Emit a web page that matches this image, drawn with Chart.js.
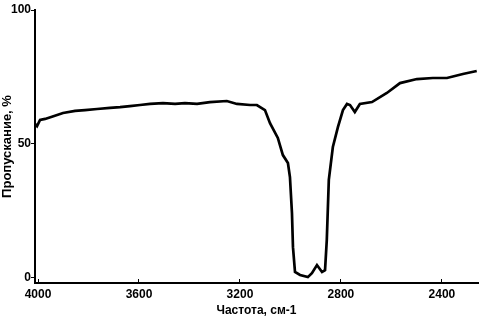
<!DOCTYPE html>
<html>
<head>
<meta charset="utf-8">
<script src="https://cdn.jsdelivr.net/npm/chart.js@4/dist/chart.umd.min.js"></script>
<style>
  body { margin: 0; background: #fff; }
  #wrap { width: 484px; height: 320px; }
</style>
</head>
<body>
<div id="wrap"><canvas id="irChart" width="484" height="320"></canvas></div>
<script>
// ==== DỮ LIỆU PHỔ ====
const wavenumbers = [
    4012, 4004, 3992, 3972, 3945, 3901, 3853, 3814, 3766, 3715, 3675, 3636,
    3596, 3556, 3505, 3457, 3418, 3370, 3319, 3252, 3212, 3160, 3133, 3101,
    3081, 3050, 3030, 3010, 3002, 2994, 2990, 2982, 2962, 2931, 2915, 2895,
    2875, 2863, 2856, 2848, 2832, 2812, 2792, 2776, 2764, 2745, 2725, 2677,
    2618, 2566, 2499, 2436, 2380, 2317, 2262,
];
const transmission = [
    57.4, 56.6, 58.9, 59.3, 60.1, 61.5, 62.3, 62.6, 63.0, 63.4, 63.7, 64.1,
    64.5, 64.9, 65.2, 64.9, 65.2, 64.9, 65.6, 66.0, 64.9, 64.5, 64.5, 62.6,
    57.7, 52.2, 45.8, 42.8, 37.6, 24.1, 11.4, 2.1, 1.0, 0.2, 1.7, 4.7,
    2.1, 2.8, 14.1, 36.5, 48.8, 56.2, 62.6, 64.9, 64.5, 61.9, 64.9, 65.6,
    69.0, 72.7, 74.2, 74.6, 74.6, 76.1, 77.2,
];

// ==== NHÃN TRỤC ====
const xTicks = [4000, 3600, 3200, 2800, 2400];
const yTicks = [0, 50, 100];
const xTitle = "Частота, см-1";
const yTitle = "Пропускание, %";

const font = { family: "'Liberation Sans', Arial, sans-serif", size: 12, weight: "bold" };

const ctx = document.getElementById("irChart").getContext("2d");
new Chart(ctx, {
    type: "line",
    data: {
        datasets: [
            {
                data: wavenumbers.map((w, i) => ({ x: w, y: transmission[i] })),
                borderColor: "#000",
                borderWidth: 2.7,
                pointRadius: 0,
                tension: 0,
                fill: false,
            },
        ],
    },
    options: {
        responsive: false,
        animation: false,
        layout: { padding: { top: 10, right: 6, left: 0, bottom: 0 } },
        plugins: { legend: { display: false }, tooltip: { enabled: false } },
        scales: {
            x: {
                type: "linear",
                reverse: true,
                min: 2257,
                max: 4012,
                afterBuildTicks: (s) => { s.ticks = xTicks.map((v) => ({ value: v })); },
                afterFit: (s) => { s.height = 37; },
                border: { color: "#000", width: 2 },
                grid: { drawOnChartArea: false, color: "#000", tickLength: -4 },
                ticks: {
                    color: "#000",
                    font,
                    padding: 8,
                    maxRotation: 0,
                    callback: (v) => String(v),
                },
                title: {
                    display: true,
                    text: xTitle,
                    color: "#000",
                    font,
                    padding: { top: 0, bottom: 2 },
                },
            },
            y: {
                min: -2,
                max: 100,
                afterBuildTicks: (s) => { s.ticks = yTicks.map((v) => ({ value: v })); },
                afterFit: (s) => { s.width = 35; },
                border: { color: "#000", width: 2 },
                grid: { drawOnChartArea: false, color: "#000", tickLength: 4 },
                ticks: { color: "#000", font, padding: 0, callback: (v) => String(v) },
                title: {
                    display: true,
                    text: yTitle,
                    color: "#000",
                    font: { ...font, size: 13 },
                    padding: { top: 0, bottom: 0 },
                },
            },
        },
    },
});
</script>
</body>
</html>
